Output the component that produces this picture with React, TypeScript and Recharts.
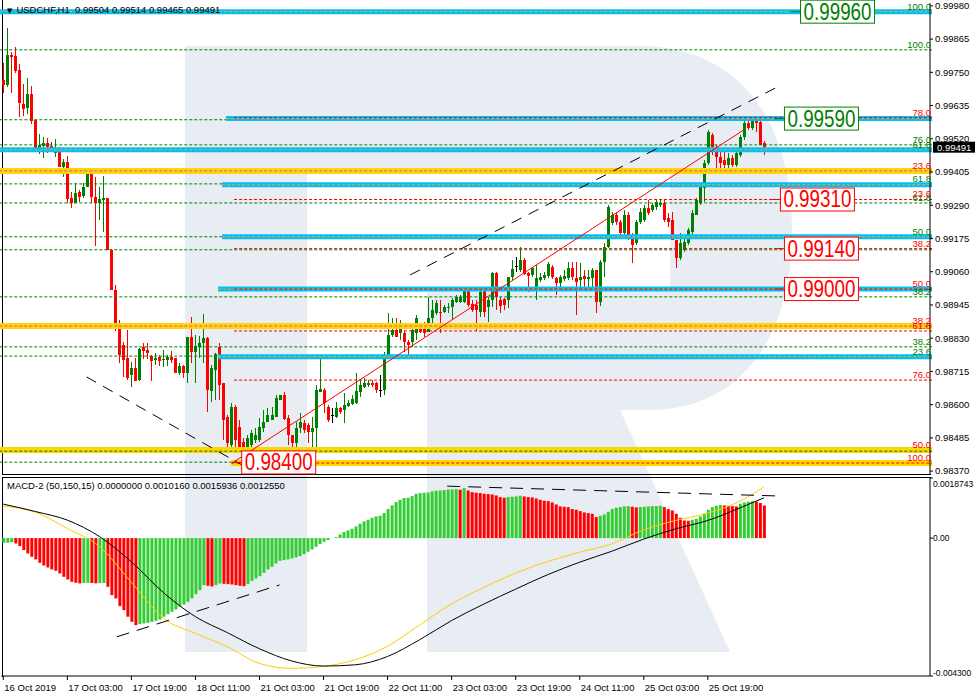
import React from 'react'
import {
  ComposedChart,
  Bar,
  Line,
  XAxis,
  YAxis,
  Cell,
  ReferenceLine,
  ReferenceDot
} from 'recharts'

// ============================================================================
// USDCHF H1 - candles, fibo levels and MACD-2 panel
// ============================================================================

// open, high, low, close per H1 bar
const ohlc: number[][] = [
  [0.99724, 0.99783, 0.99679, 0.99707], [0.99707, 0.99905, 0.99700, 0.99811], [0.99811, 0.99821, 0.99679, 0.99804],
  [0.99808, 0.99839, 0.99749, 0.99756], [0.99759, 0.99780, 0.99596, 0.99645], [0.99641, 0.99711, 0.99600, 0.99624],
  [0.99627, 0.99731, 0.99607, 0.99676], [0.99676, 0.99704, 0.99572, 0.99582], [0.99586, 0.99586, 0.99475, 0.99478],
  [0.99478, 0.99537, 0.99468, 0.99499], [0.99496, 0.99527, 0.99454, 0.99506], [0.99506, 0.99524, 0.99472, 0.99492],
  [0.99496, 0.99510, 0.99478, 0.99478], [0.99472, 0.99520, 0.99458, 0.99485], [0.99482, 0.99492, 0.99423, 0.99423],
  [0.99423, 0.99451, 0.99388, 0.99440], [0.99440, 0.99461, 0.99298, 0.99312], [0.99316, 0.99336, 0.99281, 0.99298],
  [0.99298, 0.99368, 0.99298, 0.99333], [0.99336, 0.99343, 0.99302, 0.99319], [0.99323, 0.99368, 0.99316, 0.99354],
  [0.99354, 0.99413, 0.99354, 0.99399], [0.99399, 0.99399, 0.99298, 0.99319], [0.99319, 0.99388, 0.99149, 0.99298],
  [0.99298, 0.99354, 0.99240, 0.99312], [0.99309, 0.99392, 0.99198, 0.99316], [0.99316, 0.99316, 0.99136, 0.99136],
  [0.99136, 0.99140, 0.98997, 0.98997], [0.98997, 0.99014, 0.98855, 0.98862], [0.98865, 0.98893, 0.98744, 0.98772],
  [0.98806, 0.98817, 0.98696, 0.98755], [0.98761, 0.98858, 0.98685, 0.98692], [0.98703, 0.98748, 0.98661, 0.98727],
  [0.98727, 0.98761, 0.98682, 0.98682], [0.98685, 0.98796, 0.98682, 0.98793], [0.98800, 0.98813, 0.98758, 0.98786],
  [0.98789, 0.98813, 0.98758, 0.98779], [0.98768, 0.98772, 0.98682, 0.98751], [0.98755, 0.98779, 0.98737, 0.98761],
  [0.98765, 0.98772, 0.98734, 0.98751], [0.98755, 0.98789, 0.98730, 0.98758], [0.98755, 0.98772, 0.98734, 0.98765],
  [0.98765, 0.98786, 0.98744, 0.98755], [0.98761, 0.98761, 0.98709, 0.98709], [0.98709, 0.98744, 0.98703, 0.98734],
  [0.98734, 0.98737, 0.98692, 0.98709], [0.98709, 0.98834, 0.98675, 0.98834], [0.98834, 0.98903, 0.98744, 0.98782],
  [0.98782, 0.98841, 0.98675, 0.98803], [0.98800, 0.98838, 0.98761, 0.98813], [0.98813, 0.98914, 0.98744, 0.98831],
  [0.98831, 0.98834, 0.98574, 0.98651], [0.98647, 0.98737, 0.98609, 0.98727], [0.98720, 0.98779, 0.98616, 0.98775],
  [0.98800, 0.98813, 0.98616, 0.98668], [0.98675, 0.98675, 0.98477, 0.98547], [0.98557, 0.98564, 0.98453, 0.98467],
  [0.98460, 0.98606, 0.98453, 0.98592], [0.98592, 0.98599, 0.98453, 0.98477], [0.98522, 0.98547, 0.98436, 0.98453],
  [0.98470, 0.98484, 0.98401, 0.98419], [0.98436, 0.98495, 0.98408, 0.98484], [0.98460, 0.98512, 0.98443, 0.98502],
  [0.98477, 0.98519, 0.98467, 0.98495], [0.98477, 0.98554, 0.98470, 0.98522], [0.98519, 0.98581, 0.98505, 0.98540],
  [0.98540, 0.98588, 0.98540, 0.98564], [0.98547, 0.98592, 0.98547, 0.98564], [0.98557, 0.98633, 0.98557, 0.98623],
  [0.98616, 0.98633, 0.98616, 0.98633], [0.98633, 0.98644, 0.98547, 0.98550], [0.98554, 0.98564, 0.98460, 0.98495],
  [0.98495, 0.98495, 0.98432, 0.98467], [0.98467, 0.98540, 0.98436, 0.98519], [0.98519, 0.98571, 0.98502, 0.98540],
  [0.98536, 0.98547, 0.98502, 0.98512], [0.98529, 0.98536, 0.98467, 0.98505], [0.98505, 0.98557, 0.98453, 0.98519],
  [0.98519, 0.98668, 0.98453, 0.98651], [0.98644, 0.98765, 0.98644, 0.98654], [0.98651, 0.98658, 0.98571, 0.98606],
  [0.98592, 0.98599, 0.98540, 0.98547], [0.98564, 0.98588, 0.98536, 0.98564], [0.98557, 0.98609, 0.98554, 0.98588],
  [0.98588, 0.98592, 0.98567, 0.98574], [0.98581, 0.98640, 0.98536, 0.98599], [0.98595, 0.98616, 0.98592, 0.98606],
  [0.98602, 0.98633, 0.98599, 0.98619], [0.98606, 0.98709, 0.98602, 0.98647], [0.98644, 0.98685, 0.98626, 0.98668],
  [0.98661, 0.98692, 0.98658, 0.98675], [0.98668, 0.98685, 0.98661, 0.98675], [0.98675, 0.98685, 0.98661, 0.98668],
  [0.98675, 0.98678, 0.98640, 0.98651], [0.98651, 0.98703, 0.98626, 0.98651], [0.98651, 0.98782, 0.98633, 0.98772],
  [0.98765, 0.98917, 0.98765, 0.98841], [0.98841, 0.98900, 0.98834, 0.98858], [0.98858, 0.98900, 0.98834, 0.98834],
  [0.98848, 0.98893, 0.98824, 0.98865], [0.98848, 0.98858, 0.98782, 0.98817], [0.98817, 0.98824, 0.98765, 0.98806],
  [0.98817, 0.98865, 0.98800, 0.98858], [0.98848, 0.98910, 0.98824, 0.98900], [0.98876, 0.98883, 0.98848, 0.98851],
  [0.98883, 0.98886, 0.98834, 0.98848], [0.98851, 0.98973, 0.98851, 0.98900], [0.98900, 0.98962, 0.98869, 0.98928],
  [0.98917, 0.98962, 0.98910, 0.98952], [0.98921, 0.98962, 0.98848, 0.98917], [0.98921, 0.98945, 0.98917, 0.98938],
  [0.98935, 0.98952, 0.98917, 0.98938], [0.98938, 0.98969, 0.98893, 0.98962], [0.98955, 0.98980, 0.98952, 0.98973],
  [0.98955, 0.98980, 0.98952, 0.98973], [0.98955, 0.99004, 0.98952, 0.99000], [0.98997, 0.99004, 0.98938, 0.98945],
  [0.98949, 0.98962, 0.98921, 0.98928], [0.98945, 0.98962, 0.98855, 0.98928], [0.98921, 0.98997, 0.98903, 0.98990],
  [0.98997, 0.99004, 0.98903, 0.98921], [0.98938, 0.98973, 0.98886, 0.98962], [0.98962, 0.99059, 0.98938, 0.99056],
  [0.99056, 0.99059, 0.98928, 0.98973], [0.98962, 0.98973, 0.98917, 0.98942], [0.98966, 0.98969, 0.98928, 0.98945],
  [0.98962, 0.99042, 0.98935, 0.99042], [0.99042, 0.99101, 0.99032, 0.99070], [0.99080, 0.99111, 0.99059, 0.99080],
  [0.99066, 0.99146, 0.99059, 0.99101], [0.99101, 0.99108, 0.99049, 0.99052], [0.99056, 0.99059, 0.98990, 0.99045],
  [0.99049, 0.99077, 0.99042, 0.99073], [0.99004, 0.99084, 0.98962, 0.99039], [0.99032, 0.99056, 0.99025, 0.99042],
  [0.99039, 0.99059, 0.99032, 0.99049], [0.99045, 0.99094, 0.99039, 0.99087], [0.99077, 0.99084, 0.99035, 0.99042],
  [0.99039, 0.99042, 0.98980, 0.99021], [0.99021, 0.99049, 0.98997, 0.99042], [0.99035, 0.99066, 0.99028, 0.99045],
  [0.99039, 0.99094, 0.99032, 0.99073], [0.99073, 0.99094, 0.99032, 0.99042], [0.99039, 0.99094, 0.98910, 0.99025],
  [0.99032, 0.99091, 0.98997, 0.99042], [0.99045, 0.99066, 0.98997, 0.99035], [0.99035, 0.99066, 0.98997, 0.99042],
  [0.99039, 0.99073, 0.98997, 0.99066], [0.99066, 0.99066, 0.98917, 0.98955], [0.98955, 0.99101, 0.98942, 0.99094],
  [0.99094, 0.99160, 0.99042, 0.99146], [0.99146, 0.99291, 0.99142, 0.99285], [0.99229, 0.99267, 0.99222, 0.99257],
  [0.99257, 0.99267, 0.99222, 0.99233], [0.99233, 0.99240, 0.99188, 0.99194], [0.99194, 0.99274, 0.99181, 0.99257],
  [0.99257, 0.99267, 0.99170, 0.99181], [0.99181, 0.99194, 0.99091, 0.99153], [0.99160, 0.99240, 0.99153, 0.99233],
  [0.99233, 0.99281, 0.99226, 0.99267], [0.99240, 0.99291, 0.99233, 0.99281], [0.99281, 0.99309, 0.99257, 0.99264],
  [0.99274, 0.99298, 0.99267, 0.99291], [0.99285, 0.99309, 0.99274, 0.99302], [0.99291, 0.99309, 0.99285, 0.99298],
  [0.99298, 0.99309, 0.99233, 0.99240], [0.99246, 0.99264, 0.99215, 0.99233], [0.99240, 0.99267, 0.99170, 0.99170],
  [0.99170, 0.99170, 0.99073, 0.99108], [0.99108, 0.99194, 0.99101, 0.99160], [0.99136, 0.99177, 0.99129, 0.99163],
  [0.99160, 0.99212, 0.99153, 0.99205], [0.99198, 0.99274, 0.99188, 0.99264], [0.99257, 0.99316, 0.99257, 0.99309],
  [0.99298, 0.99361, 0.99291, 0.99354], [0.99350, 0.99447, 0.99302, 0.99437], [0.99437, 0.99551, 0.99430, 0.99544],
  [0.99534, 0.99541, 0.99465, 0.99492], [0.99492, 0.99499, 0.99413, 0.99458], [0.99458, 0.99475, 0.99413, 0.99437],
  [0.99447, 0.99482, 0.99420, 0.99430], [0.99430, 0.99472, 0.99402, 0.99454], [0.99454, 0.99465, 0.99423, 0.99430],
  [0.99430, 0.99482, 0.99423, 0.99472], [0.99465, 0.99534, 0.99458, 0.99527], [0.99527, 0.99586, 0.99517, 0.99575],
  [0.99575, 0.99586, 0.99551, 0.99558], [0.99558, 0.99593, 0.99551, 0.99593], [0.99593, 0.99593, 0.99544, 0.99575],
  [0.99579, 0.99589, 0.99499, 0.99499], [0.99504, 0.99514, 0.99465, 0.99491]
]

// MACD-2 histogram, one value per bar
const macdHist: number[] = [
  -0.000146, -0.000146, -0.000125, -0.000166, -0.000250, -0.000374, -0.000478, -0.000582, -0.000666, -0.000770,
  -0.000853, -0.000915, -0.000978, -0.001019, -0.001102, -0.001206, -0.001290, -0.001362, -0.001394, -0.001414,
  -0.001400, -0.001390, -0.001400, -0.001410, -0.001405, -0.001400, -0.001518, -0.001778, -0.001882, -0.002122,
  -0.002246, -0.002454, -0.002610, -0.002714, -0.002683, -0.002662, -0.002642, -0.002610, -0.002579, -0.002538,
  -0.002454, -0.002371, -0.002298, -0.002226, -0.002142, -0.002070, -0.001986, -0.001882, -0.001747, -0.001622,
  -0.001466, -0.001487, -0.001508, -0.001466, -0.001414, -0.001425, -0.001435, -0.001446, -0.001466, -0.001487,
  -0.001498, -0.001435, -0.001331, -0.001258, -0.001186, -0.001082, -0.000978, -0.000894, -0.000790, -0.000707,
  -0.000686, -0.000666, -0.000634, -0.000603, -0.000562, -0.000499, -0.000426, -0.000354, -0.000270, -0.000187,
  -0.000114, -0.000062, 0.000000, 0.000031, 0.000114, 0.000187, 0.000239, 0.000291, 0.000364, 0.000447,
  0.000520, 0.000572, 0.000634, 0.000676, 0.000697, 0.000780, 0.000905, 0.001019, 0.001123, 0.001196,
  0.001248, 0.001258, 0.001310, 0.001383, 0.001404, 0.001414, 0.001425, 0.001456, 0.001477, 0.001487,
  0.001498, 0.001518, 0.001518, 0.001529, 0.001508, 0.001560, 0.001487, 0.001435, 0.001414, 0.001404,
  0.001383, 0.001373, 0.001362, 0.001331, 0.001279, 0.001258, 0.001279, 0.001290, 0.001300, 0.001321,
  0.001300, 0.001279, 0.001269, 0.001238, 0.001196, 0.001165, 0.001154, 0.001113, 0.001050, 0.000988,
  0.000978, 0.000967, 0.000905, 0.000884, 0.000842, 0.000801, 0.000780, 0.000759, 0.000655, 0.000697,
  0.000738, 0.000822, 0.000905, 0.000946, 0.000967, 0.000988, 0.000998, 0.000978, 0.000957, 0.000967,
  0.000978, 0.000988, 0.000998, 0.000998, 0.001009, 0.000967, 0.000905, 0.000863, 0.000759, 0.000634,
  0.000551, 0.000541, 0.000572, 0.000603, 0.000676, 0.000759, 0.000884, 0.000967, 0.001009, 0.001030,
  0.001019, 0.001009, 0.000998, 0.000988, 0.001071, 0.001113, 0.001134, 0.001154, 0.001134, 0.001092,
  0.001016
]

// MACD lines, read every 8 bars
const lineBars = [0, 8, 16, 24, 32, 40, 48, 56, 64, 72, 80, 88, 96, 104, 112, 120, 128, 136, 144, 152, 160, 168, 176, 184, 190]
const blackLine = [
  0.00106, 0.00083, 0.00056, 0.00005, -0.00074, -0.00170, -0.00245, -0.00295, -0.00345, -0.00383, -0.00399, -0.00395,
  -0.00369, -0.00317, -0.00257, -0.00206, -0.00159, -0.00114, -0.00075, -0.00041, -0.00003, 0.00029, 0.00055, 0.00094, 0.001255
]
const yellowLine = [
  0.00100, 0.00081, 0.00030, -0.00026, -0.00138, -0.00250, -0.00297, -0.00339, -0.00391, -0.00406, -0.00400, -0.00379,
  -0.00337, -0.00271, -0.00205, -0.00154, -0.00109, -0.00073, -0.00044, -0.00018, 0.00026, 0.00055, 0.00078, 0.00115, 0.0015936
]

const dateTicks = [0, 16, 32, 48, 64, 80, 96, 112, 128, 144, 160, 176]
const dateLabels = [
  '16 Oct 2019', '17 Oct 03:00', '17 Oct 19:00', '18 Oct 11:00', '21 Oct 03:00', '21 Oct 19:00',
  '22 Oct 11:00', '23 Oct 03:00', '23 Oct 19:00', '24 Oct 11:00', '25 Oct 03:00', '25 Oct 19:00'
]

const priceTicks = [
  0.98370, 0.98485, 0.98600, 0.98715, 0.98830, 0.98945, 0.99060, 0.99175,
  0.99290, 0.99405, 0.99520, 0.99635, 0.99750, 0.99865, 0.99980
]

// fibo / level lines: price, first bar, kind
const levels: [number, number, string][] = [
  [0.99960, -0.5, 'band'], [0.99828, -0.5, 'gd'], [0.99586, -0.5, 'gd'], [0.99590, 55.9, 'band'],
  [0.99593, 57.9, 'rd'], [0.99499, -0.5, 'gd'], [0.99482, -0.5, 'band'], [0.99409, -0.5, 'gold'],
  [0.99364, -0.5, 'gd'], [0.99361, 54.9, 'band'], [0.99310, 57.9, 'rd'], [0.99298, -0.5, 'gd'],
  [0.99181, -0.5, 'gd'], [0.99181, 54.9, 'band'], [0.99136, -0.5, 'gd'], [0.99140, 57.9, 'rd'],
  [0.99000, 53.9, 'band'], [0.99000, 57.9, 'rd'], [0.98973, -0.5, 'gd'], [0.98872, -0.5, 'gold'],
  [0.98855, 57.9, 'rd'], [0.98800, -0.5, 'gd'], [0.98768, -0.5, 'gd'], [0.98766, 53.9, 'band'],
  [0.98685, 57.9, 'rd'], [0.98443, -0.5, 'goldp'], [0.98439, -0.5, 'gd'], [0.98401, -0.5, 'gd'],
  [0.98398, 57.2, 'goldp'], [0.98398, 57.2, 'rd']
]

const fibTexts: [number, string, string][] = [
  [0.99960, '100.0', 'g'], [0.99828, '100.0', 'g'], [0.99593, '78.0', 'r'], [0.99499, '76.0', 'g'],
  [0.99482, '61.8', 'g'], [0.99409, '23.6', 'r'], [0.99364, '61.8', 'g'], [0.99310, '23.6', 'r'],
  [0.99298, '61.8', 'g'], [0.99181, '50.0', 'g'], [0.99140, '38.2', 'r'], [0.99000, '50.0', 'r'],
  [0.98973, '38.2', 'g'], [0.98872, '38.2', 'r'], [0.98855, '61.8', 'r'], [0.98800, '38.2', 'g'],
  [0.98766, '23.6', 'g'], [0.98685, '76.0', 'r'], [0.98443, '50.0', 'r'], [0.98398, '100.0', 'r']
]

// price tags: price, bar, tone
const priceBoxes: [number, number, string][] = [
  [0.99960, 208, 'g'], [0.99590, 204, 'g'], [0.99310, 203, 'r'],
  [0.99140, 204, 'r'], [0.99000, 204, 'r'], [0.98400, 69, 'r']
]

// trend lines: bar1, price1, bar2, price2, kind
const trendLines: [number, number, number, number, string][] = [
  [101.7, 0.99049, 193.7, 0.99704, 'dash'],
  [21.2, 0.98696, 61.7, 0.98377, 'dash'],
  [-0.1, 0.99531, 62.4, 0.98398, 'green'],
  [57.4, 0.98398, 184.7, 0.99551, 'red']
]
const macdTrends: [number, number, number, number][] = [
  [28.7, -0.00308, 69.2, -0.00146],
  [110.9, 0.00162, 194.2, 0.00131]
]

const SLOTS = 232
const END = SLOTS - 0.5
const FONT = '"Liberation Sans", Arial, sans-serif'
const GREEN = '#008000'
const RED = '#FF0000'
const MACD_MIN = -0.0043
const MACD_MAX = 0.0018743

const priceRows = Array.from({ length: SLOTS }, (_, i) => {
  const k = ohlc[i]
  return k ? { i, o: k[0], h: k[1], l: k[2], c: k[3] } : { i }
})

const macdRows = Array.from({ length: SLOTS }, (_, i) => {
  const n = lineBars.indexOf(i)
  return {
    i,
    m: i < macdHist.length ? macdHist[i] : null,
    k: n >= 0 ? blackLine[n] : null,
    y: n >= 0 ? yellowLine[n] : null
  }
})

const Candle = (p: any) => {
  const d = p.payload
  if (!d || d.o == null) return null
  const top = Math.min(p.y, p.y + p.height)
  const span = Math.abs(p.height)
  const toY = (v: number) => (d.h === d.l ? top : top + ((d.h - v) / (d.h - d.l)) * span)
  const cx = Math.floor(p.x + p.width / 2)
  const col = d.c > d.o ? GREEN : d.c < d.o ? RED : '#000'
  const yo = toY(d.o)
  const yc = toY(d.c)
  return (
    <g>
      <rect x={cx} y={Math.round(top)} width={1} height={Math.max(1, Math.round(span))} fill={col} />
      <rect x={cx - 1} y={Math.round(Math.min(yo, yc))} width={3} height={Math.max(1, Math.round(Math.abs(yo - yc)))} fill={col} />
    </g>
  )
}

const levelLines = levels.flatMap(([p, from, kind], n) => {
  const seg = [{ x: from, y: p }, { x: END, y: p }]
  const common = { xAxisId: 'n', segment: seg, ifOverflow: 'visible' as const }
  if (kind === 'band') {
    return [
      <ReferenceLine key={`b${n}`} {...common} stroke="#00BFFF" strokeWidth={5} />,
      <ReferenceLine key={`bo${n}`} {...common} stroke="#FFA500" strokeDasharray="3 2" />
    ]
  }
  if (kind === 'gold' || kind === 'goldp') {
    const out = [<ReferenceLine key={`y${n}`} {...common} stroke="#FFD700" strokeWidth={6} />]
    if (kind === 'gold') out.push(<ReferenceLine key={`ym${n}`} {...common} stroke="#E040E0" strokeDasharray="3 2" />)
    return out
  }
  return [
    <ReferenceLine key={`l${n}`} {...common} stroke={kind === 'rd' ? RED : GREEN} strokeDasharray="3 2" />
  ]
})

const fibLabels = fibTexts.map(([p, t, tone], n) => (
  <ReferenceDot
    key={`f${n}`}
    xAxisId="n"
    x={231}
    y={p}
    ifOverflow="visible"
    shape={(s: any) => (
      <text x={s.cx + 1} y={s.cy - 2} textAnchor="end" fontSize={9.5} fontFamily={FONT} fill={tone === 'g' ? GREEN : RED}>
        {t}
      </text>
    )}
  />
))

const boxes = priceBoxes.map(([p, bar, tone], n) => {
  const col = tone === 'g' ? GREEN : RED
  return (
    <ReferenceDot
      key={`x${n}`}
      xAxisId="n"
      x={bar}
      y={p}
      ifOverflow="visible"
      shape={(s: any) => (
        <g>
          <line x1={s.cx - 47} x2={s.cx - 37} y1={s.cy} y2={s.cy} stroke={col} />
          <rect x={s.cx - 37} y={s.cy - 11.5} width={74} height={23} fill="#fff" stroke={col} strokeWidth={1} />
          <text x={s.cx} y={s.cy + 8} textAnchor="middle" fontSize={23} fontFamily={FONT} fill={col} textLength={68} lengthAdjust="spacingAndGlyphs">
            {p.toFixed(5)}
          </text>
        </g>
      )}
    />
  )
})

const trendEls = trendLines.map(([x1, y1, x2, y2, kind], n) => (
  <ReferenceLine
    key={`t${n}`}
    xAxisId="n"
    segment={[{ x: x1, y: y1 }, { x: x2, y: y2 }]}
    stroke={kind === 'dash' ? '#000' : kind === 'green' ? GREEN : RED}
    strokeDasharray={kind === 'dash' ? '11 8' : undefined}
    strokeWidth={1}
  />
))

const last = ohlc[ohlc.length - 1]

const DateTick = ({ x, y, payload }: any) => {
  const n = dateTicks.indexOf(payload.value)
  return (
    <text x={x + 1} y={y} dy="0.71em" fontSize={9.5} fontFamily={FONT} fill="#000" textAnchor="start">
      {n >= 0 ? dateLabels[n] : ''}
    </text>
  )
}

const MacdTick = ({ x, y, payload }: any) => {
  const v = payload.value
  const dy = v === MACD_MAX ? 6 : v === MACD_MIN ? -3 : 0
  const txt = v === 0 ? '0.00' : v === MACD_MIN ? v.toFixed(6) : v.toFixed(7)
  return (
    <text x={x - 3} y={y + dy} dy="0.355em" fontSize={8.5} fontFamily={FONT} fill="#000" textAnchor="start">
      {txt}
    </text>
  )
}

export default function App() {
  return (
    <div style={{ position: 'fixed', left: 0, top: 0, width: 975, height: 699, background: '#fff', overflow: 'hidden', fontFamily: FONT }}>
      {/* watermark */}
      <svg width={975} height={699} style={{ position: 'absolute', left: 0, top: 0 }}>
        <g fill="#E8ECF3">
          <path d="M185,46 L307,46 L307,652 L185,652 Z" />
          <path d="M307,46 L640,46 C730,46 792,110 792,230 C792,350 730,410 650,410 L427,410 L427,290 L670,290 L670,168 L307,168 Z" />
          <path d="M427,410 L620,410 L730,652 L427,652 Z" />
        </g>
      </svg>

      {/* frames */}
      <div style={{ position: 'absolute', left: 2, top: 0, width: 1, height: 475, background: '#000' }} />
      <div style={{ position: 'absolute', left: 2, top: 474, width: 929, height: 1, background: '#000' }} />
      <div style={{ position: 'absolute', left: 2, top: 477, width: 929, height: 1, background: '#000' }} />
      <div style={{ position: 'absolute', left: 2, top: 477, width: 1, height: 200, background: '#000' }} />

      <div style={{ position: 'absolute', left: 0, top: 0 }}>
        <ComposedChart width={975} height={477} data={priceRows} margin={{ top: 3, right: 0, bottom: 3, left: 1.3 }}>
          <XAxis xAxisId="c" dataKey="i" hide />
          <XAxis xAxisId="n" type="number" domain={[-0.5, END]} hide allowDataOverflow />
          <YAxis
            orientation="right"
            width={45}
            domain={[0.9836, 0.9999]}
            ticks={priceTicks}
            interval={0}
            allowDataOverflow
            tickFormatter={(v: number) => v.toFixed(5)}
            tick={{ fill: '#000', fontSize: 9.5, fontFamily: FONT }}
            tickSize={3}
            tickMargin={2}
            axisLine={{ stroke: '#000' }}
            tickLine={{ stroke: '#000' }}
          />
          {levelLines}
          <Bar xAxisId="c" dataKey={(d: any) => (d.o == null ? null : [d.l, d.h])} barSize={3} shape={Candle} isAnimationActive={false} />
          {trendEls}
          {fibLabels}
          {boxes}
          <ReferenceDot
            xAxisId="n"
            x={END}
            y={last[3]}
            ifOverflow="visible"
            shape={(s: any) => (
              <g>
                <rect x={s.cx + 1} y={s.cy - 5.5} width={42} height={11} fill="#000" />
                <text x={s.cx + 5} y={s.cy} dy="0.355em" fontSize={9.5} fontFamily={FONT} fill="#fff">
                  {last[3].toFixed(5)}
                </text>
              </g>
            )}
          />
        </ComposedChart>
      </div>

      <div style={{ position: 'absolute', left: 0, top: 477 }}>
        <ComposedChart width={975} height={222} data={macdRows} margin={{ top: 1, right: 0, bottom: 0, left: 1.3 }}>
          <XAxis
            xAxisId="c"
            dataKey="i"
            ticks={dateTicks}
            interval={0}
            height={23}
            tick={<DateTick />}
            tickSize={4}
            tickMargin={4}
            axisLine={{ stroke: '#000' }}
            tickLine={{ stroke: '#000' }}
          />
          <XAxis xAxisId="n" type="number" domain={[-0.5, END]} hide allowDataOverflow />
          <YAxis
            orientation="right"
            width={45}
            domain={[MACD_MIN, MACD_MAX]}
            ticks={[MACD_MIN, 0, MACD_MAX]}
            interval={0}
            allowDataOverflow
            tick={<MacdTick />}
            tickSize={3}
            tickMargin={3}
            axisLine={{ stroke: '#000' }}
            tickLine={{ stroke: '#000' }}
          />
          <Bar xAxisId="c" dataKey="m" barSize={3} isAnimationActive={false}>
            {macdRows.map((r, i) => (
              <Cell
                key={i}
                fill={i === 0 || (r.m != null && r.m >= (macdRows[i - 1].m as number)) ? '#32CD32' : RED}
              />
            ))}
          </Bar>
          <Line xAxisId="c" dataKey="y" type="monotone" stroke="#FFCC00" strokeWidth={1} dot={false} connectNulls isAnimationActive={false} />
          <Line xAxisId="c" dataKey="k" type="monotone" stroke="#000" strokeWidth={1} dot={false} connectNulls isAnimationActive={false} />
          {macdTrends.map(([x1, y1, x2, y2], n) => (
            <ReferenceLine
              key={`m${n}`}
              xAxisId="n"
              segment={[{ x: x1, y: y1 }, { x: x2, y: y2 }]}
              stroke="#000"
              strokeDasharray="13 8"
            />
          ))}
        </ComposedChart>
      </div>

      {/* titles */}
      <div style={{ position: 'absolute', left: 7, top: 3, fontSize: 9.5, color: '#000', whiteSpace: 'pre', lineHeight: '14px' }}>
        <span style={{ fontFamily: '"DejaVu Sans"', fontSize: 7, marginRight: 4 }}>▼</span>
        {`USDCHF,H1  ${last.map((v) => v.toFixed(5)).join(' ')}`}
      </div>
      <div style={{ position: 'absolute', left: 7, top: 479, fontSize: 9.5, color: '#000', whiteSpace: 'pre', lineHeight: '14px' }}>
        {`MACD-2 (50,150,15) ${(0).toFixed(7)} ${macdHist[macdHist.length - 1].toFixed(7)} ${yellowLine[yellowLine.length - 1].toFixed(7)} ${blackLine[blackLine.length - 1].toFixed(7)}`}
      </div>
    </div>
  )
}
